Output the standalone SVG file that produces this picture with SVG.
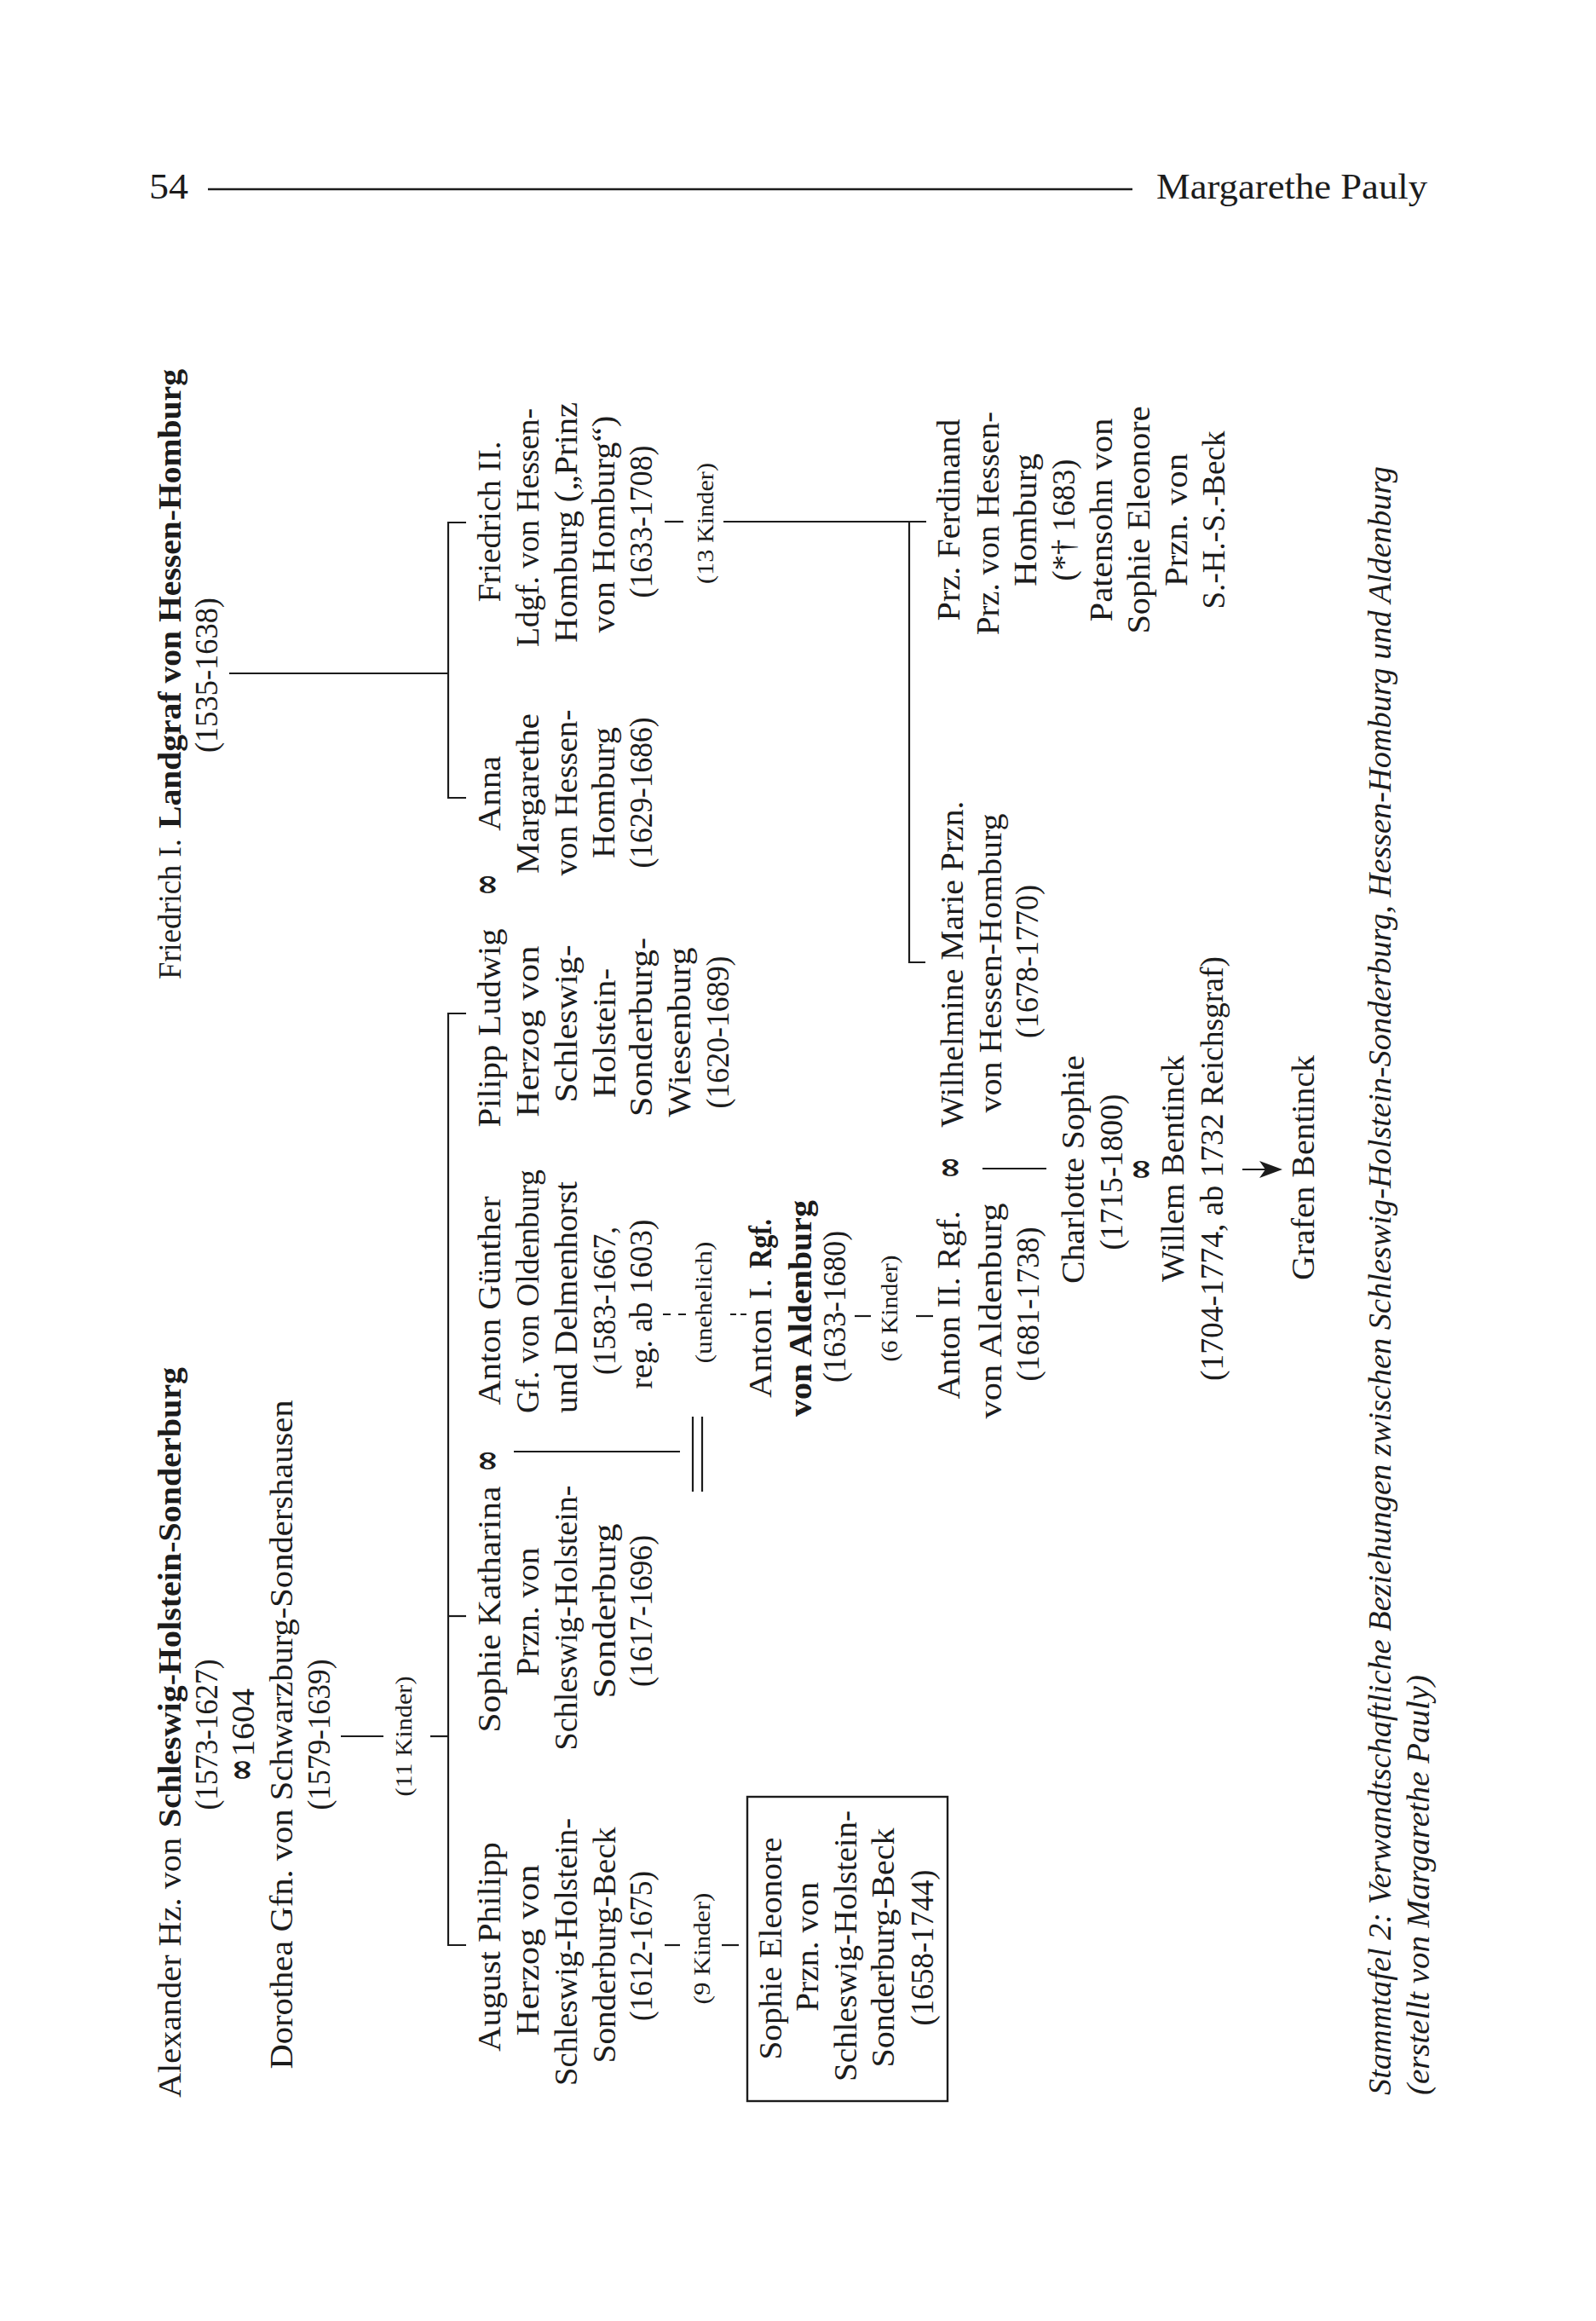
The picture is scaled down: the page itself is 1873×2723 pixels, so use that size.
<svg xmlns="http://www.w3.org/2000/svg" width="1873" height="2723" viewBox="0 0 1873 2723">
<style>
.t{font-family:"Liberation Serif","Times New Roman",serif;font-size:38px;fill:#1c1c1c;text-anchor:middle}
.st{text-anchor:start}
.s{font-size:27px}
.b{font-weight:bold}
.i{font-style:italic}
.inf{font-family:"DejaVu Serif","Liberation Serif",serif;font-weight:bold;font-size:46px}
.ln{stroke:#1c1c1c;stroke-width:2.2;fill:none}
.bx{stroke:#1c1c1c;stroke-width:2.4;fill:none}
</style>
<defs>
<marker id="ah" markerWidth="28" markerHeight="22" refX="22" refY="11" orient="auto" markerUnits="userSpaceOnUse">
<path d="M0,1 L27,11 L0,21 L7,11 Z" fill="#1c1c1c"/>
</marker>
</defs>
<rect width="1873" height="2723" fill="#ffffff"/>

<g id="header">
<text class="t st" x="175" y="233" style="font-size:42px" textLength="46" lengthAdjust="spacingAndGlyphs">54</text>
<line class="ln" x1="244" y1="222" x2="1329" y2="222" style="stroke-width:2.5"/>
<text class="t st" x="1357" y="233" style="font-size:42px" textLength="318" lengthAdjust="spacingAndGlyphs">Margarethe Pauly</text>
</g>

<g id="connectors">
<!-- Friedrich I -->
<line class="ln" x1="269" y1="790" x2="526" y2="790"/>
<polyline class="ln" points="547,613 526,613 526,936 547,936"/>
<!-- Alexander -->
<line class="ln" x1="400" y1="2037" x2="450" y2="2037"/>
<line class="ln" x1="505" y1="2037" x2="526" y2="2037"/>
<polyline class="ln" points="547,1189 526,1189 526,2282 547,2282"/>
<line class="ln" x1="526" y1="1896" x2="547" y2="1896"/>
<!-- Friedrich II -->
<line class="ln" x1="780" y1="612" x2="802" y2="612"/>
<line class="ln" x1="849" y1="612" x2="1087" y2="612"/>
<polyline class="ln" points="1067,612 1067,1129 1086,1129"/>
<!-- August Philipp -->
<line class="ln" x1="780" y1="2282" x2="798" y2="2282"/>
<line class="ln" x1="847" y1="2282" x2="867" y2="2282"/>
<!-- Sophie Katharina oo Anton Guenther -->
<line class="ln" x1="603" y1="1703" x2="798" y2="1703"/>
<line class="ln" x1="813" y1="1662" x2="813" y2="1750"/>
<line class="ln" x1="824" y1="1662" x2="824" y2="1750"/>
<!-- unehelich dashed -->
<line class="ln" x1="778" y1="1542" x2="807" y2="1542" stroke-dasharray="9,9"/>
<line class="ln" x1="857" y1="1542" x2="876" y2="1542" stroke-dasharray="7,5"/>
<!-- Anton I -->
<line class="ln" x1="1003" y1="1544" x2="1022" y2="1544"/>
<line class="ln" x1="1075" y1="1544" x2="1095" y2="1544"/>
<!-- Anton II oo Wilhelmine -->
<line class="ln" x1="1153" y1="1371" x2="1228" y2="1371"/>
<!-- arrow to Grafen Bentinck -->
<line class="ln" x1="1458" y1="1372" x2="1500" y2="1372" marker-end="url(#ah)"/>
<g transform="rotate(-90)">
<text class="t s" x="-2037" y="483" textLength="141" lengthAdjust="spacingAndGlyphs">(11 Kinder)</text>
<text class="t s" x="-614" y="837" textLength="142" lengthAdjust="spacingAndGlyphs">(13 Kinder)</text>
<text class="t s" x="-2286" y="833" textLength="131" lengthAdjust="spacingAndGlyphs">(9 Kinder)</text>
<text class="t s" x="-1528" y="835" textLength="143" lengthAdjust="spacingAndGlyphs">(unehelich)</text>
<text class="t s" x="-1535" y="1053" textLength="125" lengthAdjust="spacingAndGlyphs">(6 Kinder)</text>
<text class="t inf" x="-1714" y="586" textLength="26" lengthAdjust="spacingAndGlyphs">∞</text>
<text class="t inf" x="-1038" y="586" textLength="26" lengthAdjust="spacingAndGlyphs">∞</text>
<text class="t inf" x="-1370" y="1129" textLength="26" lengthAdjust="spacingAndGlyphs">∞</text>
<text class="t inf" x="-1372" y="1353" textLength="26" lengthAdjust="spacingAndGlyphs">∞</text>
</g>
</g>

<g id="n-friedrich1" transform="rotate(-90)">
<text class="t st" x="-1149" y="212" textLength="165" lengthAdjust="spacingAndGlyphs">Friedrich I.</text>
<text class="t st b" x="-972" y="212" textLength="539" lengthAdjust="spacingAndGlyphs">Landgraf von Hessen-Homburg</text>
<text class="t" x="-792" y="255" textLength="182" lengthAdjust="spacingAndGlyphs">(1535-1638)</text>
</g>

<g id="n-alexander" transform="rotate(-90)">
<text class="t st" x="-2461" y="212" textLength="305" lengthAdjust="spacingAndGlyphs">Alexander Hz. von</text>
<text class="t st b" x="-2144" y="212" textLength="540" lengthAdjust="spacingAndGlyphs">Schleswig-Holstein-Sonderburg</text>
<text class="t" x="-2035" y="255" textLength="177" lengthAdjust="spacingAndGlyphs">(1573-1627)</text>
<text class="t st inf" x="-2090" y="298" textLength="27" lengthAdjust="spacingAndGlyphs">∞</text>
<text class="t st" x="-2061" y="298" textLength="80" lengthAdjust="spacingAndGlyphs">1604</text>
<text class="t" x="-2035" y="343" textLength="785" lengthAdjust="spacingAndGlyphs">Dorothea Gfn. von Schwarzburg-Sondershausen</text>
<text class="t" x="-2035" y="387" textLength="177" lengthAdjust="spacingAndGlyphs">(1579-1639)</text>
</g>

<g id="n-august-philipp" transform="rotate(-90)">
<text class="t" x="-2284" y="587" textLength="246" lengthAdjust="spacingAndGlyphs">August Philipp</text>
<text class="t" x="-2288" y="632" textLength="201" lengthAdjust="spacingAndGlyphs">Herzog von</text>
<text class="t" x="-2290" y="677" textLength="314" lengthAdjust="spacingAndGlyphs">Schleswig-Holstein-</text>
<text class="t" x="-2282" y="722" textLength="277" lengthAdjust="spacingAndGlyphs">Sonderburg-Beck</text>
<text class="t" x="-2283" y="765" textLength="176" lengthAdjust="spacingAndGlyphs">(1612-1675)</text>
</g>

<g id="n-sophie-eleonore">
<rect class="bx" x="877" y="2108" width="235" height="357"/>
<g transform="rotate(-90)">
<text class="t" x="-2286" y="917" textLength="261" lengthAdjust="spacingAndGlyphs">Sophie Eleonore</text>
<text class="t" x="-2284" y="960" textLength="152" lengthAdjust="spacingAndGlyphs">Przn. von</text>
<text class="t" x="-2283" y="1005" textLength="318" lengthAdjust="spacingAndGlyphs">Schleswig-Holstein-</text>
<text class="t" x="-2285" y="1049" textLength="281" lengthAdjust="spacingAndGlyphs">Sonderburg-Beck</text>
<text class="t" x="-2285" y="1095" textLength="183" lengthAdjust="spacingAndGlyphs">(1658-1744)</text>
</g>
</g>

<g id="n-sophie-katharina" transform="rotate(-90)">
<text class="t" x="-1888" y="587" textLength="289" lengthAdjust="spacingAndGlyphs">Sophie Katharina</text>
<text class="t" x="-1891" y="632" textLength="151" lengthAdjust="spacingAndGlyphs">Przn. von</text>
<text class="t" x="-1898" y="677" textLength="311" lengthAdjust="spacingAndGlyphs">Schleswig-Holstein-</text>
<text class="t" x="-1890" y="722" textLength="205" lengthAdjust="spacingAndGlyphs">Sonderburg</text>
<text class="t" x="-1890" y="765" textLength="178" lengthAdjust="spacingAndGlyphs">(1617-1696)</text>
</g>

<g id="n-anton-guenther" transform="rotate(-90)">
<text class="t" x="-1526" y="587" textLength="245" lengthAdjust="spacingAndGlyphs">Anton Günther</text>
<text class="t" x="-1515" y="632" textLength="286" lengthAdjust="spacingAndGlyphs">Gf. von Oldenburg</text>
<text class="t" x="-1522" y="677" textLength="272" lengthAdjust="spacingAndGlyphs">und Delmenhorst</text>
<text class="t" x="-1526" y="722" textLength="174" lengthAdjust="spacingAndGlyphs">(1583-1667,</text>
<text class="t" x="-1530" y="765" textLength="199" lengthAdjust="spacingAndGlyphs">reg. ab 1603)</text>
</g>

<g id="n-anton1" transform="rotate(-90)">
<text class="t st" x="-1640" y="905" textLength="140" lengthAdjust="spacingAndGlyphs">Anton I.</text>
<text class="t st b" x="-1488" y="905" textLength="58" lengthAdjust="spacingAndGlyphs">Rgf.</text>
<text class="t b" x="-1535" y="952" textLength="254" lengthAdjust="spacingAndGlyphs">von Aldenburg</text>
<text class="t" x="-1533" y="992" textLength="178" lengthAdjust="spacingAndGlyphs">(1633-1680)</text>
</g>

<g id="n-anton2" transform="rotate(-90)">
<text class="t" x="-1531" y="1126" textLength="221" lengthAdjust="spacingAndGlyphs">Anton II. Rgf.</text>
<text class="t" x="-1538" y="1175" textLength="253" lengthAdjust="spacingAndGlyphs">von Aldenburg</text>
<text class="t" x="-1530" y="1219" textLength="181" lengthAdjust="spacingAndGlyphs">(1681-1738)</text>
</g>

<g id="n-pilipp-ludwig" transform="rotate(-90)">
<text class="t" x="-1206" y="587" textLength="233" lengthAdjust="spacingAndGlyphs">Pilipp Ludwig</text>
<text class="t" x="-1210" y="632" textLength="201" lengthAdjust="spacingAndGlyphs">Herzog von</text>
<text class="t" x="-1201" y="677" textLength="185" lengthAdjust="spacingAndGlyphs">Schleswig-</text>
<text class="t" x="-1212" y="722" textLength="152" lengthAdjust="spacingAndGlyphs">Holstein-</text>
<text class="t" x="-1205" y="765" textLength="210" lengthAdjust="spacingAndGlyphs">Sonderburg-</text>
<text class="t" x="-1211" y="810" textLength="199" lengthAdjust="spacingAndGlyphs">Wiesenburg</text>
<text class="t" x="-1211" y="855" textLength="179" lengthAdjust="spacingAndGlyphs">(1620-1689)</text>
</g>

<g id="n-anna-margarethe" transform="rotate(-90)">
<text class="t" x="-931" y="587" textLength="88" lengthAdjust="spacingAndGlyphs">Anna</text>
<text class="t" x="-931" y="632" textLength="188" lengthAdjust="spacingAndGlyphs">Margarethe</text>
<text class="t" x="-930" y="677" textLength="195" lengthAdjust="spacingAndGlyphs">von Hessen-</text>
<text class="t" x="-930" y="721" textLength="154" lengthAdjust="spacingAndGlyphs">Homburg</text>
<text class="t" x="-930" y="765" textLength="177" lengthAdjust="spacingAndGlyphs">(1629-1686)</text>
</g>

<g id="n-friedrich2" transform="rotate(-90)">
<text class="t" x="-612" y="587" textLength="189" lengthAdjust="spacingAndGlyphs">Friedrich II.</text>
<text class="t" x="-619" y="632" textLength="280" lengthAdjust="spacingAndGlyphs">Ldgf. von Hessen-</text>
<text class="t" x="-613" y="677" textLength="282" lengthAdjust="spacingAndGlyphs">Homburg („Prinz</text>
<text class="t" x="-615" y="721" textLength="255" lengthAdjust="spacingAndGlyphs">von Homburg“)</text>
<text class="t" x="-612" y="765" textLength="179" lengthAdjust="spacingAndGlyphs">(1633-1708)</text>
</g>

<g id="n-ferdinand" transform="rotate(-90)">
<text class="t" x="-610" y="1126" textLength="237" lengthAdjust="spacingAndGlyphs">Prz. Ferdinand</text>
<text class="t" x="-614" y="1172" textLength="262" lengthAdjust="spacingAndGlyphs">Prz. von Hessen-</text>
<text class="t" x="-610" y="1216" textLength="156" lengthAdjust="spacingAndGlyphs">Homburg</text>
<text class="t" x="-610" y="1261" textLength="143" lengthAdjust="spacingAndGlyphs">(*† 1683)</text>
<text class="t" x="-610" y="1305" textLength="239" lengthAdjust="spacingAndGlyphs">Patensohn von</text>
<text class="t" x="-610" y="1349" textLength="267" lengthAdjust="spacingAndGlyphs">Sophie Eleonore</text>
<text class="t" x="-610" y="1393" textLength="156" lengthAdjust="spacingAndGlyphs">Przn. von</text>
<text class="t" x="-610" y="1437" textLength="209" lengthAdjust="spacingAndGlyphs">S.-H.-S.-Beck</text>
</g>

<g id="n-wilhelmine" transform="rotate(-90)">
<text class="t" x="-1131" y="1130" textLength="383" lengthAdjust="spacingAndGlyphs">Wilhelmine Marie Przn.</text>
<text class="t" x="-1130" y="1175" textLength="351" lengthAdjust="spacingAndGlyphs">von Hessen-Homburg</text>
<text class="t" x="-1128" y="1218" textLength="180" lengthAdjust="spacingAndGlyphs">(1678-1770)</text>
</g>

<g id="n-charlotte-sophie" transform="rotate(-90)">
<text class="t" x="-1372" y="1272" textLength="268" lengthAdjust="spacingAndGlyphs">Charlotte Sophie</text>
<text class="t" x="-1375" y="1317" textLength="183" lengthAdjust="spacingAndGlyphs">(1715-1800)</text>
</g>

<g id="n-willem-bentinck" transform="rotate(-90)">
<text class="t" x="-1371" y="1389" textLength="266" lengthAdjust="spacingAndGlyphs">Willem Bentinck</text>
<text class="t" x="-1371" y="1435" textLength="498" lengthAdjust="spacingAndGlyphs">(1704-1774, ab 1732 Reichsgraf)</text>
</g>

<g id="n-grafen-bentinck" transform="rotate(-90)">
<text class="t" x="-1370" y="1542" textLength="264" lengthAdjust="spacingAndGlyphs">Grafen Bentinck</text>
</g>

<g id="caption" transform="rotate(-90)">
<text class="t st i" x="-2458" y="1632" textLength="1911" lengthAdjust="spacingAndGlyphs">Stammtafel 2: Verwandtschaftliche Beziehungen zwischen Schleswig-Holstein-Sonderburg, Hessen-Homburg und Aldenburg</text>
<text class="t st i" x="-2458" y="1677" textLength="493" lengthAdjust="spacingAndGlyphs">(erstellt von Margarethe Pauly)</text>
</g>
</svg>
